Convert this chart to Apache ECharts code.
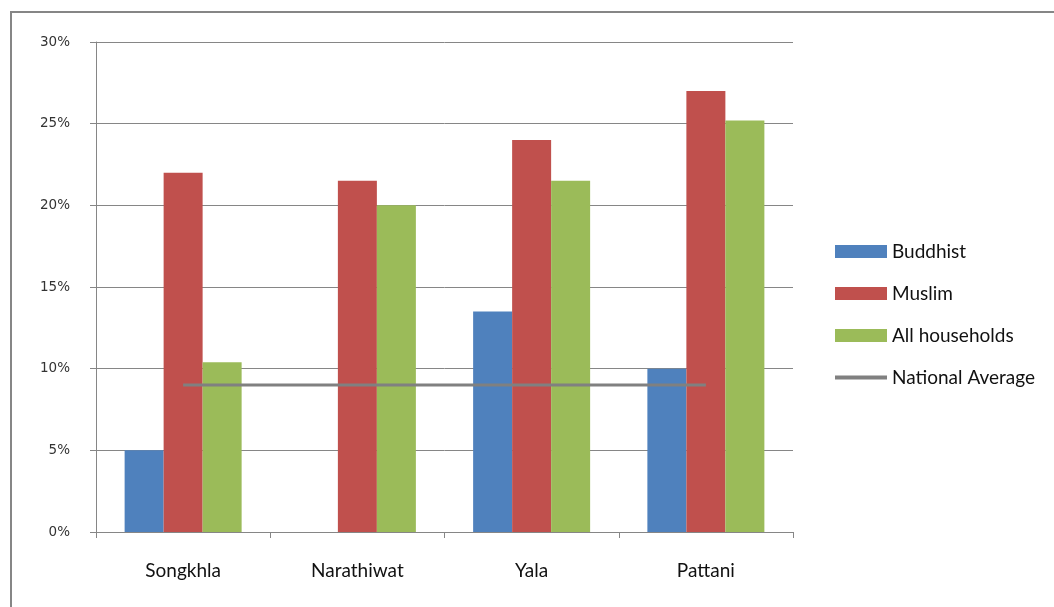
<!DOCTYPE html>
<html><head><meta charset="utf-8">
<script src="https://cdn.jsdelivr.net/npm/echarts@6/dist/echarts.min.js"></script>
<style>html,body{margin:0;padding:0;background:#fff}#c{width:1054px;height:607px}</style>
</head><body><div id="c"></div>
<script>
const categories = ['Songkhla', 'Narathiwat', 'Yala', 'Pattani'];
const buddhist = [5, 0, 13.5, 10];
const muslim = [22, 21.5, 24, 27];
const allHouseholds = [10.4, 20, 21.5, 25.2];
const nationalAverage = [9, 9, 9, 9];
const yTicks = [0, 5, 10, 15, 20, 25, 30];

const chart = echarts.init(document.getElementById('c'));
const gray = '#868686';
chart.setOption({
  animation: false,
  graphic: [{type:'rect', shape:{x:11, y:12, width:1100, height:700}, style:{fill:'none', stroke:gray, lineWidth:2}, z:-10}],
  grid: {left: 96, right: 261, top: 42, bottom: 75},
  legend: {
    orient: 'vertical', left: 828, top: 237, itemWidth: 52, itemHeight: 13, itemGap: 23,
    textStyle: {fontFamily: 'Lato, sans-serif', fontSize: 19, color: '#111', padding:[0,0,0,0]},
    data: [
      {name:'Buddhist', icon:'rect'},
      {name:'Muslim', icon:'rect'},
      {name:'All households', icon:'rect'},
      {name:'National Average', itemStyle:{color:'rgba(0,0,0,0)', borderWidth:0, opacity:0}, lineStyle:{width:4, color:'#808080'}}
    ]
  },
  xAxis: {
    type: 'category', data: categories,
    axisLine: {lineStyle: {color: gray, width: 1}},
    axisTick: {show: true, length: 6, lineStyle: {color: gray}},
    axisLabel: {fontFamily: 'Lato, sans-serif', fontSize: 19, color: '#111', margin: 29}
  },
  yAxis: {
    type: 'value', min: yTicks[0], max: yTicks[yTicks.length-1], interval: 5,
    axisLine: {show: true, lineStyle: {color: gray}},
    axisTick: {show: true, length: 6, lineStyle: {color: gray}},
    splitLine: {lineStyle: {color: gray}},
    axisLabel: {formatter: '{value}%', fontFamily: 'DejaVu Sans, sans-serif', fontSize: 13.5, color: '#333', margin: 26}
  },
  series: [
    {name:'Buddhist', type:'bar', data: buddhist, barWidth: 39, barGap: '0%', itemStyle:{color:'#4F81BD'}},
    {name:'Muslim', type:'bar', data: muslim, barWidth: 39, barGap: '0%', itemStyle:{color:'#C0504D'}},
    {name:'All households', type:'bar', data: allHouseholds, barWidth: 39, barGap: '0%', itemStyle:{color:'#9BBB59'}},
    {name:'National Average', type:'line', data: nationalAverage, symbol:'none', lineStyle:{color:'#808080', width:3}, itemStyle:{color:'rgba(0,0,0,0)', borderWidth:0}, z:5}
  ]
});
</script></body></html>
